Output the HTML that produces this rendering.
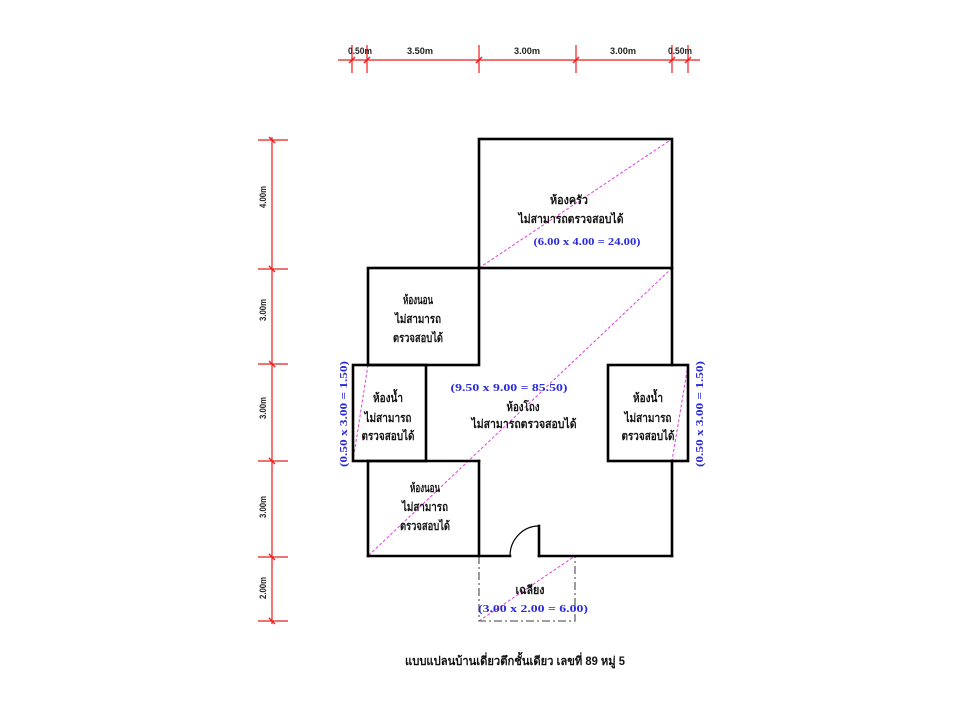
<!DOCTYPE html>
<html>
<head>
<meta charset="utf-8">
<style>
html,body{margin:0;padding:0;background:#fff;}
svg{display:block;}
.th{font-family:"Liberation Sans","Noto Sans CJK SC","WenQuanYi Zen Hei",sans-serif;font-weight:bold;font-size:12px;fill:#111;}
.bl{font-family:"Liberation Serif","DejaVu Serif",serif;font-weight:bold;font-size:11px;fill:#2a2ad8;}
.dm{font-family:"Liberation Sans","DejaVu Sans",sans-serif;font-weight:bold;font-size:9px;fill:#222;}
</style>
</head>
<body>
<svg width="960" height="720" viewBox="0 0 960 720" xmlns="http://www.w3.org/2000/svg">
<rect width="960" height="720" fill="#fff"/>

<!-- top dimension -->
<g stroke="#ee1c1c" stroke-width="1.2" fill="none">
  <line x1="338" y1="60" x2="700" y2="60"/>
  <line x1="352" y1="45" x2="352" y2="73"/>
  <line x1="367" y1="45" x2="367" y2="73"/>
  <line x1="479" y1="45" x2="479" y2="73"/>
  <line x1="576" y1="45" x2="576" y2="73"/>
  <line x1="672" y1="45" x2="672" y2="73"/>
  <line x1="688" y1="45" x2="688" y2="73"/>
  <g stroke-width="1.4">
    <line x1="349" y1="63" x2="355" y2="57"/>
    <line x1="364" y1="63" x2="370" y2="57"/>
    <line x1="476" y1="63" x2="482" y2="57"/>
    <line x1="573" y1="63" x2="579" y2="57"/>
    <line x1="669" y1="63" x2="675" y2="57"/>
    <line x1="685" y1="63" x2="691" y2="57"/>
  </g>
</g>
<text class="dm" x="360" y="54" text-anchor="middle" textLength="24" lengthAdjust="spacingAndGlyphs">0.50m</text>
<text class="dm" x="420" y="54" text-anchor="middle" textLength="26" lengthAdjust="spacingAndGlyphs">3.50m</text>
<text class="dm" x="527" y="54" text-anchor="middle" textLength="26" lengthAdjust="spacingAndGlyphs">3.00m</text>
<text class="dm" x="623" y="54" text-anchor="middle" textLength="26" lengthAdjust="spacingAndGlyphs">3.00m</text>
<text class="dm" x="680" y="54" text-anchor="middle" textLength="24" lengthAdjust="spacingAndGlyphs">0.50m</text>

<!-- left dimension -->
<g stroke="#ee1c1c" stroke-width="1.2" fill="none">
  <line x1="272" y1="137" x2="272" y2="624"/>
  <line x1="258" y1="140" x2="288" y2="140"/>
  <line x1="258" y1="269" x2="288" y2="269"/>
  <line x1="258" y1="364" x2="288" y2="364"/>
  <line x1="258" y1="461" x2="288" y2="461"/>
  <line x1="258" y1="557" x2="288" y2="557"/>
  <line x1="258" y1="621" x2="288" y2="621"/>
  <g stroke-width="1.4">
    <line x1="269" y1="137" x2="275" y2="143"/>
    <line x1="269" y1="266" x2="275" y2="272"/>
    <line x1="269" y1="361" x2="275" y2="367"/>
    <line x1="269" y1="458" x2="275" y2="464"/>
    <line x1="269" y1="554" x2="275" y2="560"/>
    <line x1="269" y1="618" x2="275" y2="624"/>
  </g>
</g>
<text class="dm" transform="translate(266,197) rotate(-90)" text-anchor="middle" textLength="22" lengthAdjust="spacingAndGlyphs">4.00m</text>
<text class="dm" transform="translate(266,310) rotate(-90)" text-anchor="middle" textLength="22" lengthAdjust="spacingAndGlyphs">3.00m</text>
<text class="dm" transform="translate(266,408) rotate(-90)" text-anchor="middle" textLength="22" lengthAdjust="spacingAndGlyphs">3.00m</text>
<text class="dm" transform="translate(266,507) rotate(-90)" text-anchor="middle" textLength="22" lengthAdjust="spacingAndGlyphs">3.00m</text>
<text class="dm" transform="translate(266,588) rotate(-90)" text-anchor="middle" textLength="22" lengthAdjust="spacingAndGlyphs">2.00m</text>

<!-- diagonals -->
<g stroke="#e040e0" stroke-width="1" stroke-dasharray="3,2" fill="none">
  <line x1="479" y1="268" x2="672" y2="139"/>
  <line x1="672" y1="268" x2="368" y2="556"/>
  <line x1="368" y1="365" x2="353" y2="461"/>
  <line x1="688" y1="365" x2="672" y2="461"/>
  <line x1="479" y1="621" x2="575" y2="556"/>
</g>

<!-- porch dash-dot -->
<g stroke="#666" stroke-width="1.3" fill="none" stroke-dasharray="8,3,2,3">
  <polyline points="479,556 479,621 575,621 575,556"/>
</g>

<!-- walls -->
<g stroke="#000" stroke-width="2.6" fill="none" stroke-linecap="square">
  <rect x="479" y="139" width="193" height="129"/>
  <rect x="368" y="268" width="111" height="97"/>
  <rect x="353" y="365" width="73" height="96"/>
  <rect x="608" y="365" width="80" height="96"/>
  <line x1="672" y1="268" x2="672" y2="365"/>
  <line x1="672" y1="461" x2="672" y2="556"/>
  <line x1="368" y1="461" x2="479" y2="461"/>
  <line x1="368" y1="461" x2="368" y2="556"/>
  <line x1="479" y1="461" x2="479" y2="556"/>
  <line x1="368" y1="556" x2="510" y2="556"/>
  <line x1="539" y1="556" x2="672" y2="556"/>
  <line x1="539" y1="526" x2="539" y2="556"/>
</g>
<path d="M510,556 A29,30 0 0 1 539,526" stroke="#000" stroke-width="1.2" fill="none"/>

<!-- kitchen text -->
<text class="th" x="569" y="204" text-anchor="middle" textLength="38" lengthAdjust="spacingAndGlyphs">ห้องครัว</text>
<text class="th" x="571" y="223" text-anchor="middle" textLength="105" lengthAdjust="spacingAndGlyphs">ไม่สามารถตรวจสอบได้</text>
<text class="bl" x="587" y="245" text-anchor="middle" textLength="107" lengthAdjust="spacingAndGlyphs">(6.00 x 4.00 = 24.00)</text>

<!-- top bedroom -->
<text class="th" x="418" y="304" text-anchor="middle" textLength="30" lengthAdjust="spacingAndGlyphs">ห้องนอน</text>
<text class="th" x="418" y="323" text-anchor="middle" textLength="46" lengthAdjust="spacingAndGlyphs">ไม่สามารถ</text>
<text class="th" x="418" y="342" text-anchor="middle" textLength="50" lengthAdjust="spacingAndGlyphs">ตรวจสอบได้</text>

<!-- left bath -->
<text class="th" x="388" y="402" text-anchor="middle" textLength="30" lengthAdjust="spacingAndGlyphs">ห้องน้ำ</text>
<text class="th" x="388" y="422" text-anchor="middle" textLength="47" lengthAdjust="spacingAndGlyphs">ไม่สามารถ</text>
<text class="th" x="388" y="440" text-anchor="middle" textLength="53" lengthAdjust="spacingAndGlyphs">ตรวจสอบได้</text>

<!-- right bath -->
<text class="th" x="648" y="402" text-anchor="middle" textLength="30" lengthAdjust="spacingAndGlyphs">ห้องน้ำ</text>
<text class="th" x="648" y="422" text-anchor="middle" textLength="47" lengthAdjust="spacingAndGlyphs">ไม่สามารถ</text>
<text class="th" x="648" y="440" text-anchor="middle" textLength="53" lengthAdjust="spacingAndGlyphs">ตรวจสอบได้</text>

<!-- main hall -->
<text class="bl" x="509" y="391" text-anchor="middle" textLength="117" lengthAdjust="spacingAndGlyphs">(9.50 x 9.00 = 85.50)</text>
<text class="th" x="523" y="411" text-anchor="middle" textLength="33" lengthAdjust="spacingAndGlyphs">ห้องโถง</text>
<text class="th" x="524" y="428" text-anchor="middle" textLength="105" lengthAdjust="spacingAndGlyphs">ไม่สามารถตรวจสอบได้</text>

<!-- bottom bedroom -->
<text class="th" x="425" y="492" text-anchor="middle" textLength="30" lengthAdjust="spacingAndGlyphs">ห้องนอน</text>
<text class="th" x="425" y="511" text-anchor="middle" textLength="46" lengthAdjust="spacingAndGlyphs">ไม่สามารถ</text>
<text class="th" x="425" y="530" text-anchor="middle" textLength="50" lengthAdjust="spacingAndGlyphs">ตรวจสอบได้</text>

<!-- porch -->
<text class="th" x="530" y="594" text-anchor="middle" textLength="29" lengthAdjust="spacingAndGlyphs">เฉลียง</text>
<text class="bl" x="533" y="612" text-anchor="middle" textLength="110" lengthAdjust="spacingAndGlyphs">(3.00 x 2.00 = 6.00)</text>

<!-- rotated side labels -->
<text class="bl" transform="translate(347,414) rotate(-90)" text-anchor="middle" textLength="106" lengthAdjust="spacingAndGlyphs">(0.50 x 3.00 = 1.50)</text>
<text class="bl" transform="translate(703,414) rotate(-90)" text-anchor="middle" textLength="106" lengthAdjust="spacingAndGlyphs">(0.50 x 3.00 = 1.50)</text>

<!-- caption -->
<text class="th" x="515" y="665" text-anchor="middle" textLength="220" lengthAdjust="spacingAndGlyphs">แบบแปลนบ้านเดี่ยวตึกชั้นเดียว เลขที่ 89 หมู่ 5</text>
</svg>
</body>
</html>
